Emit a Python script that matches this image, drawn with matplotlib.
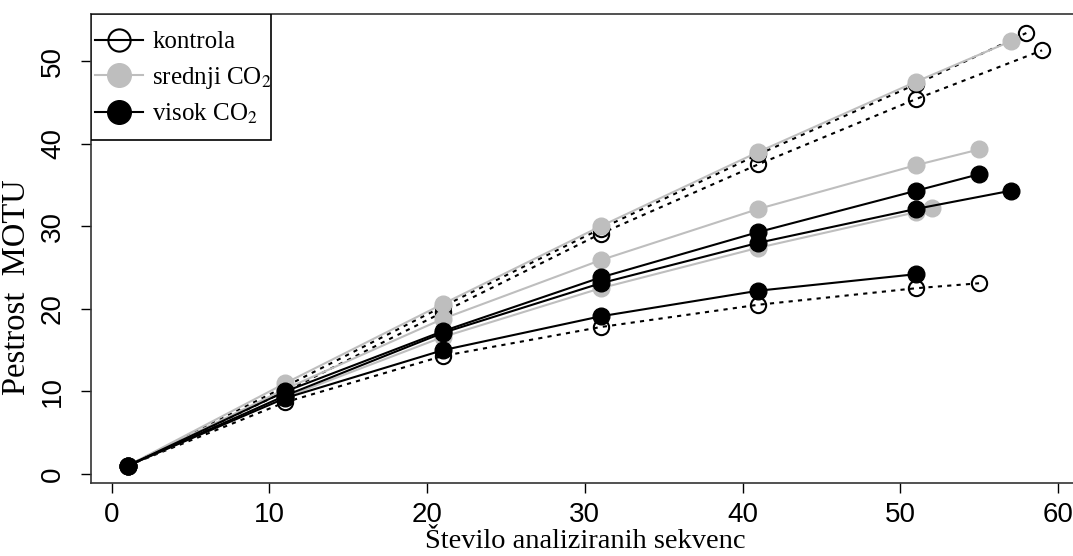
import matplotlib
matplotlib.use("Agg")
import matplotlib.pyplot as plt
from matplotlib.lines import Line2D
from matplotlib.patches import Rectangle

plt.rcParams['mathtext.fontset'] = 'stix'

# rarefaction curves: number of analysed sequences vs. MOTU richness
kontrola_x = [[1, 11, 21, 31, 41, 51, 58],
              [1, 11, 21, 31, 41, 51, 59],
              [1, 11, 21, 31, 41, 51, 55]]
kontrola_y = [[1, 10.6, 20.3, 29.7, 38.7, 47.2, 53.4],
              [1, 10.0, 19.6, 29.1, 37.5, 45.4, 51.3],
              [1, 8.7, 14.3, 17.8, 20.5, 22.5, 23.1]]

srednji_x = [[1, 11, 21, 31, 41, 51, 57],
             [1, 11, 21, 31, 41, 51, 55],
             [1, 11, 21, 31, 41, 51, 52]]
srednji_y = [[1, 11.0, 20.6, 30.0, 39.0, 47.5, 52.4],
             [1, 10.3, 18.8, 25.9, 32.1, 37.4, 39.3],
             [1, 9.3, 16.6, 22.5, 27.4, 31.7, 32.2]]

visok_x = [[1, 11, 21, 31, 41, 51, 55],
           [1, 11, 21, 31, 41, 51, 57],
           [1, 11, 21, 31, 41, 51]]
visok_y = [[1, 10.0, 17.3, 23.8, 29.3, 34.3, 36.3],
           [1, 9.5, 17.1, 23.1, 28.0, 32.1, 34.3],
           [1, 9.2, 15.0, 19.1, 22.2, 24.2]]

grey = '#bebebe'
W, H = 1073, 556

fig = plt.figure(figsize=(W / 100, H / 100), dpi=100)
ax = fig.add_axes([0.0848, 0.1313, 0.9205, 0.8435])

for xs, ys in zip(kontrola_x, kontrola_y):
    ax.plot(xs, ys, color='black', lw=1.5, dashes=(2, 2.5),
            marker='o', ms=11, mfc='none', mec='black', mew=1.5)
for xs, ys in zip(srednji_x, srednji_y):
    ax.plot(xs, ys, color=grey, lw=1.5, marker='o', ms=12,
            mfc=grey, mec=grey)
for xs, ys in zip(visok_x, visok_y):
    ax.plot(xs, ys, color='black', lw=1.5, marker='o', ms=12,
            mfc='black', mec='black')

ax.set_xlim(-1.32, 61.32)
ax.set_ylim(-1.08, 55.7)
ax.set_xticks(range(0, 61, 10))
ax.set_yticks(range(0, 51, 10))
ax.tick_params(length=7, width=1, labelsize=20)
ax.tick_params(axis='x', pad=7)
ax.tick_params(axis='y', pad=11)
for lab in ax.get_xticklabels() + ax.get_yticklabels():
    lab.set_family('Liberation Sans')
for lab in ax.get_yticklabels():
    lab.set_rotation(90)
    lab.set_va('center')
for sp in ax.spines.values():
    sp.set_linewidth(1.2)
    sp.set_color('#333333')

ax.set_xlabel('Število analiziranih sekvenc', family='Liberation Serif',
              fontsize=20.5, labelpad=0.5)
ax.set_ylabel('Pestrost  MOTU', family='Liberation Serif', fontsize=23.5)
ax.yaxis.set_label_coords(-0.06, 0.417)

# legend box drawn separately so the frame can hug the axes corner
box = Rectangle((91 / W, 1 - 140 / H), 180 / W, 126 / H,
                transform=fig.transFigure, facecolor='white',
                edgecolor='black', lw=1.2, zorder=4.5)
ax.add_patch(box)

handles = [
    Line2D([], [], color='black', lw=1.5, marker='o', ms=16,
           mfc='none', mec='black', mew=1.5),
    Line2D([], [], color=grey, lw=1.5, marker='o', ms=17,
           mfc=grey, mec=grey),
    Line2D([], [], color='black', lw=1.5, marker='o', ms=17,
           mfc='black', mec='black'),
]
labels = ['kontrola', 'srednji CO$_2$', 'visok CO$_2$']
leg = ax.legend(handles, labels, loc='upper left',
                bbox_to_anchor=(95 / W, 1 - 31 / H),
                bbox_transform=fig.transFigure, borderaxespad=0,
                prop={'family': 'Liberation Serif', 'size': 18},
                handlelength=1.9, handletextpad=0.4, labelspacing=0.45,
                borderpad=0, frameon=False)

fig.savefig('out.png', dpi=100)
